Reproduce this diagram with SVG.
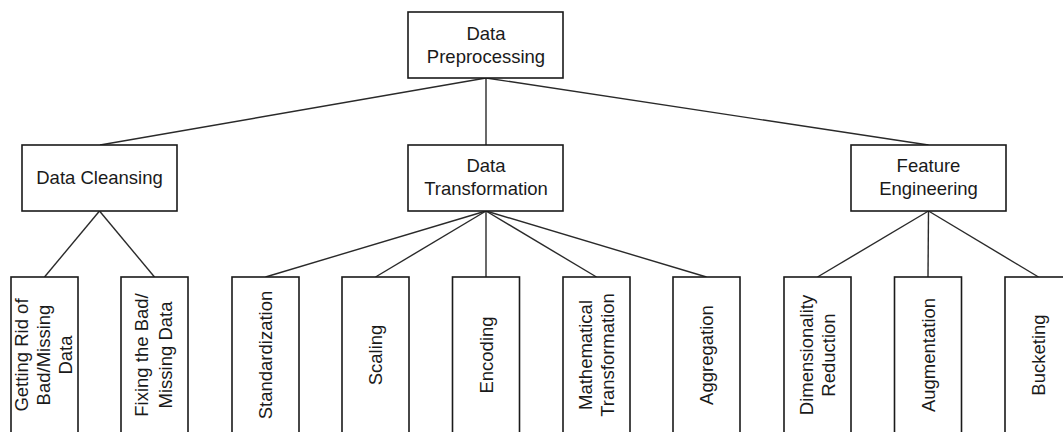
<svg xmlns="http://www.w3.org/2000/svg" width="1063" height="432" viewBox="0 0 1063 432">
  <style>
    .box { fill: #ffffff; stroke: #1a1a1a; stroke-width: 1.6; }
    .lbl { font-family: "Liberation Sans", Arial, sans-serif; font-size: 18.5px; fill: #1a1a1a; text-anchor: middle; }
    .edge { stroke: #2a2a2a; stroke-width: 1.4; fill: none; }
  </style>
  <rect width="1063" height="432" fill="#ffffff"/>
  <g id="connectors">
    <line class="edge" x1="486" y1="78" x2="100" y2="145"/>
    <line class="edge" x1="486" y1="78" x2="486" y2="145"/>
    <line class="edge" x1="486" y1="78" x2="928.5" y2="145"/>
    <line class="edge" x1="99.5" y1="211" x2="44.5" y2="277"/>
    <line class="edge" x1="99.5" y1="211" x2="154.5" y2="277"/>
    <line class="edge" x1="486" y1="211" x2="265.5" y2="277"/>
    <line class="edge" x1="486" y1="211" x2="375.5" y2="277"/>
    <line class="edge" x1="486" y1="211" x2="486" y2="277"/>
    <line class="edge" x1="486" y1="211" x2="596.5" y2="277"/>
    <line class="edge" x1="486" y1="211" x2="706.5" y2="277"/>
    <line class="edge" x1="928.5" y1="211" x2="817.5" y2="277"/>
    <line class="edge" x1="928.5" y1="211" x2="928" y2="277"/>
    <line class="edge" x1="928.5" y1="211" x2="1038.5" y2="277"/>
  </g>
  <g id="root">
    <rect class="box" x="408" y="12" width="155" height="66"/>
    <text class="lbl" x="486" y="40">Data</text>
    <text class="lbl" x="486" y="62.7">Preprocessing</text>
  </g>
  <g id="data-cleansing">
    <rect class="box" x="22" y="145" width="155" height="66"/>
    <text class="lbl" x="99.5" y="184">Data Cleansing</text>
  </g>
  <g id="data-transformation">
    <rect class="box" x="408" y="145" width="155" height="66"/>
    <text class="lbl" x="486" y="172.3">Data</text>
    <text class="lbl" x="486" y="195">Transformation</text>
  </g>
  <g id="feature-engineering">
    <rect class="box" x="851" y="145" width="155" height="66"/>
    <text class="lbl" x="928.5" y="172.3">Feature</text>
    <text class="lbl" x="928.5" y="195">Engineering</text>
  </g>
  <g id="getting-rid">
    <rect class="box" x="11" y="277" width="67" height="170"/>
    <g transform="translate(44.5,355) rotate(-90)">
      <text class="lbl" x="0" y="-16.2">Getting Rid of</text>
      <text class="lbl" x="0" y="5.5">Bad/Missing</text>
      <text class="lbl" x="0" y="27.5">Data</text>
    </g>
  </g>
  <g id="fixing">
    <rect class="box" x="121" y="277" width="67" height="170"/>
    <g transform="translate(154.5,355) rotate(-90)">
      <text class="lbl" x="0" y="-6.2">Fixing the Bad/</text>
      <text class="lbl" x="0" y="17.2">Missing Data</text>
    </g>
  </g>
  <g id="standardization">
    <rect class="box" x="232" y="277" width="67" height="170"/>
    <text class="lbl" transform="translate(265.5,355) rotate(-90)" x="0" y="6.6">Standardization</text>
  </g>
  <g id="scaling">
    <rect class="box" x="342" y="277" width="67" height="170"/>
    <text class="lbl" transform="translate(375.5,355) rotate(-90)" x="0" y="6.6">Scaling</text>
  </g>
  <g id="encoding">
    <rect class="box" x="452.5" y="277" width="67" height="170"/>
    <text class="lbl" transform="translate(486,355) rotate(-90)" x="0" y="6.6">Encoding</text>
  </g>
  <g id="mathematical-transformation">
    <rect class="box" x="563" y="277" width="67" height="170"/>
    <g transform="translate(596.5,355) rotate(-90)">
      <text class="lbl" x="0" y="-4.8">Mathematical</text>
      <text class="lbl" x="0" y="17.8">Transformation</text>
    </g>
  </g>
  <g id="aggregation">
    <rect class="box" x="673" y="277" width="67" height="170"/>
    <text class="lbl" transform="translate(706.5,355) rotate(-90)" x="0" y="6.6">Aggregation</text>
  </g>
  <g id="dimensionality-reduction">
    <rect class="box" x="784" y="277" width="67" height="170"/>
    <g transform="translate(817.5,355) rotate(-90)">
      <text class="lbl" x="0" y="-4.8">Dimensionality</text>
      <text class="lbl" x="0" y="17.8">Reduction</text>
    </g>
  </g>
  <g id="augmentation">
    <rect class="box" x="894.5" y="277" width="67" height="170"/>
    <text class="lbl" transform="translate(928,355) rotate(-90)" x="0" y="6.6">Augmentation</text>
  </g>
  <g id="bucketing">
    <rect class="box" x="1005" y="277" width="67" height="170"/>
    <text class="lbl" transform="translate(1038.5,355) rotate(-90)" x="0" y="6.6">Bucketing</text>
  </g>
</svg>
